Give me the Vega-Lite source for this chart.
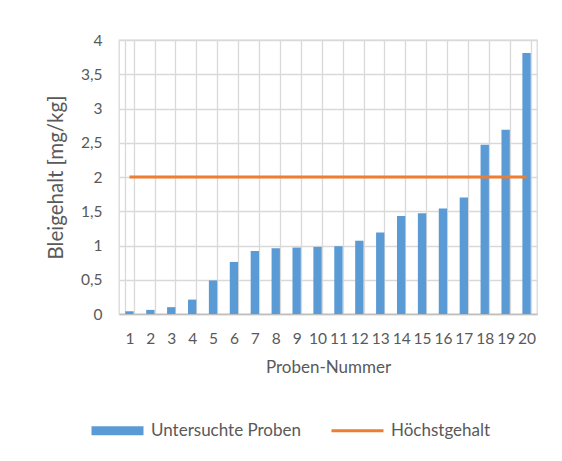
{
  "$schema": "https://vega.github.io/schema/vega-lite/v6.json",
  "width": 418,
  "height": 274,
  "autosize": "none",
  "padding": {"left": 119, "top": 40, "right": 25, "bottom": 147},
  "background": "white",
  "config": {
    "font": "Lato",
    "view": {"stroke": "#d9d9d9", "strokeWidth": 1.3},
    "axis": {"labelColor": "#595959", "titleColor": "#595959", "labelFont": "Lato", "titleFont": "Lato", "titleFontWeight": "normal"}
  },
  "data": {
    "values": [
      {"nr": "1", "wert": 0.04, "grenze": 2},
      {"nr": "2", "wert": 0.06, "grenze": 2},
      {"nr": "3", "wert": 0.10, "grenze": 2},
      {"nr": "4", "wert": 0.21, "grenze": 2},
      {"nr": "5", "wert": 0.49, "grenze": 2},
      {"nr": "6", "wert": 0.76, "grenze": 2},
      {"nr": "7", "wert": 0.92, "grenze": 2},
      {"nr": "8", "wert": 0.96, "grenze": 2},
      {"nr": "9", "wert": 0.97, "grenze": 2},
      {"nr": "10", "wert": 0.98, "grenze": 2},
      {"nr": "11", "wert": 0.99, "grenze": 2},
      {"nr": "12", "wert": 1.07, "grenze": 2},
      {"nr": "13", "wert": 1.19, "grenze": 2},
      {"nr": "14", "wert": 1.43, "grenze": 2},
      {"nr": "15", "wert": 1.47, "grenze": 2},
      {"nr": "16", "wert": 1.54, "grenze": 2},
      {"nr": "17", "wert": 1.70, "grenze": 2},
      {"nr": "18", "wert": 2.47, "grenze": 2},
      {"nr": "19", "wert": 2.69, "grenze": 2},
      {"nr": "20", "wert": 3.81, "grenze": 2}
    ]
  },
  "encoding": {
    "x": {
      "field": "nr",
      "type": "ordinal",
      "sort": null,
      "scale": {"paddingInner": 0.6, "paddingOuter": 0.3},
      "axis": {
        "title": "Proben-Nummer",
        "titleFontSize": 17,
        "titlePadding": 13,
        "labelAngle": 0,
        "labelFontSize": 15.5,
        "labelPadding": 17,
        "labelOverlap": false,
        "ticks": false,
        "tickBand": "extent",
        "grid": true,
        "gridColor": "#d9d9d9",
        "gridWidth": 1.3,
        "domainColor": "#bfbfbf",
        "domainWidth": 1.3
      }
    }
  },
  "layer": [
    {
      "mark": {"type": "bar"},
      "encoding": {
        "y": {
          "field": "wert",
          "type": "quantitative",
          "scale": {"domain": [0, 4], "nice": false},
          "axis": {
            "title": "Bleigehalt [mg/kg]",
            "titleFontSize": 20.5,
            "titlePadding": 14,
            "values": [0, 0.5, 1, 1.5, 2, 2.5, 3, 3.5, 4],
            "labelExpr": "replace(format(datum.value, '~g'), '.', ',')",
            "labelFontSize": 15.5,
            "labelPadding": 17,
            "labelOverlap": false,
            "ticks": false,
            "domain": false,
            "grid": true,
            "gridColor": "#d9d9d9",
            "gridWidth": 1.3
          }
        },
        "color": {
          "datum": "Untersuchte Proben",
          "type": "nominal",
          "scale": {"domain": ["Untersuchte Proben", "Höchstgehalt"], "range": ["#5b9bd5", "#ed7d31"]},
          "legend": {
            "title": null,
            "orient": "none",
            "direction": "horizontal",
            "legendX": -10,
            "legendY": 382,
            "labelFontSize": 17,
            "labelColor": "#595959",
            "labelFont": "Lato",
            "labelOffset": 25,
            "columnPadding": 24,
            "symbolSize": 2704,
            "encode": {
              "symbols": {
                "update": {
                  "shape": {"signal": "datum.value === 'Höchstgehalt' ? 'M-1,0H1' : 'M-1,-0.17H1V0.17H-1Z'"},
                  "fill": {"signal": "datum.value === 'Höchstgehalt' ? 'transparent' : '#5b9bd5'"},
                  "stroke": {"signal": "datum.value === 'Höchstgehalt' ? '#ed7d31' : 'transparent'"},
                  "strokeWidth": {"signal": "datum.value === 'Höchstgehalt' ? 3 : 0"},
                  "opacity": {"value": 1}
                }
              }
            }
          }
        }
      }
    },
    {
      "mark": {"type": "line", "strokeWidth": 3},
      "encoding": {
        "y": {
          "field": "grenze",
          "type": "quantitative",
          "axis": {
            "title": "Bleigehalt [mg/kg]",
            "values": [0, 0.5, 1, 1.5, 2, 2.5, 3, 3.5, 4]
          }
        },
        "color": {"datum": "Höchstgehalt", "type": "nominal"}
      }
    }
  ]
}
